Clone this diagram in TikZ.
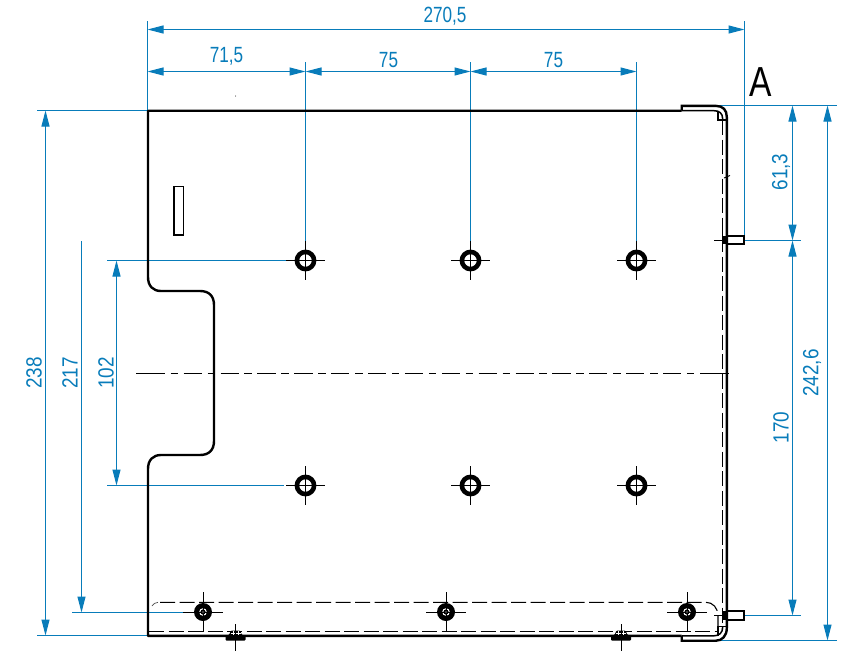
\documentclass[tikz,border=0pt]{standalone}
\usepackage{fontspec}
\newfontfamily\dimf[FakeStretch=0.78]{Liberation Sans}
\newfontfamily\dimg[FakeStretch=0.86]{Liberation Sans}
\newfontfamily\bigf[FakeStretch=0.8]{Liberation Sans}
\definecolor{dimc}{RGB}{8,124,186}
\usetikzlibrary{arrows.meta}
\tikzset{
 x=1pt,y=-1pt,
 part/.style={line width=2.4pt,black},
 thin part/.style={line width=1.5pt,black},
 hidden/.style={line width=1.1pt,black,dash pattern=on 15pt off 4.5pt},
 cross/.style={line width=.9pt,black},
 ext/.style={line width=1pt,dimc},
 dimline/.style={line width=1pt,dimc,{Triangle[length=16pt,width=8pt]}-{Triangle[length=16pt,width=8pt]}},
 dimone/.style={line width=1pt,dimc,-{Triangle[length=16pt,width=8pt]}},
 dimtext/.style={text=dimc,inner sep=0pt,font=\dimf\fontsize{22}{22}\selectfont},
 dimv/.style={text=dimc,inner sep=0pt,font=\dimg\fontsize{22}{22}\selectfont,rotate=90},
 center/.style={line width=.9pt,black},
 centerdash/.style={center,dash pattern=on 7.5pt off 5.5pt on 18.2pt off 5.67pt},
}
\newcommand{\bighole}[2]{%
 \draw[line width=4.6pt] (#1,#2) circle (8.6);
 \draw[cross] (#1-19.5,#2) -- (#1+19.5,#2) (#1,#2-19.5) -- (#1,#2+19.5);}
\newcommand{\smallhole}[2]{%
 \fill (#1,#2) circle (9);
 \draw[line width=1.1pt,white] (#1,#2) circle (3.2);
 \draw[cross] (#1-20,#2) -- (#1+20,#2) (#1,#2-20) -- (#1,#2+20);
 \fill (#1,#2) circle (2.4);
 \fill[white] (#1,#2) circle (.6);}
\newcommand{\rivet}[2]{%
 \fill[rounded corners=1pt] (#1-10,#2+5.5) -- (#1-10,#2+1) -- (#1-6.5,#2) -- (#1-4.5,#2-4.5) -- (#1+4.5,#2-4.5) -- (#1+6.5,#2) -- (#1+10,#2+1) -- (#1+10,#2+5.5) -- cycle;
 \draw[white,line width=.6pt] (#1-5,#2-2) -- (#1+5,#2-2) (#1-2.5,#2-4.5) -- (#1-2.5,#2) (#1+2.5,#2-4.5) -- (#1+2.5,#2);
 \draw[cross] (#1,#2-11) -- (#1,#2+16);}
\begin{document}
\begin{tikzpicture}
\useasboundingbox (0,0) rectangle (844,656);
% extension lines
\draw[ext] (147.5,21) -- (147.5,110.5);
\draw[ext] (744.5,21) -- (744.5,240);
\draw[ext] (305.5,62) -- (305.5,248);
\draw[ext] (470.5,62) -- (470.5,248);
\draw[ext] (636.5,62) -- (636.5,248);
\draw[ext] (37,110.5) -- (148,110.5);
\draw[ext] (37,635.5) -- (148,635.5);
\draw[ext] (72,612.5) -- (183,612.5);
\draw[ext] (107,260.5) -- (286,260.5);
\draw[ext] (107,485.5) -- (284,485.5);
\draw[ext] (719,105.5) -- (837,105.5);
\draw[ext] (744,240.5) -- (801,240.5);
\draw[ext] (744,615.5) -- (801,615.5);
\draw[ext] (718,640.5) -- (837,640.5);
% dimension lines
\draw[dimline] (147.5,29.5) -- (744.5,29.5);
\draw[dimline] (147.5,71.5) -- (305.5,71.5);
\draw[dimline] (305.5,71.5) -- (470.5,71.5);
\draw[dimline] (470.5,71.5) -- (636.5,71.5);
\draw[dimline] (45.5,110.5) -- (45.5,635.5);
\draw[dimone] (81.5,241) -- (81.5,612.5);
\draw[dimline] (116.5,260.5) -- (116.5,485.5);
\draw[dimline] (792.5,105.5) -- (792.5,240.5);
\draw[dimline] (792.5,240.5) -- (792.5,615.5);
\draw[dimline] (827.5,105.5) -- (827.5,640.5);
% dimension texts
\node[dimtext] (d1) at (445,16) {270,5};
\node[dimtext] (d2) at (226.5,56.5) {71,5};
\node[dimtext] (d3) at (388.5,60) {75};
\node[dimtext] (d4) at (553.5,60) {75};
\node[dimv] (d5) at (34,373) {238};
\node[dimv] (d6) at (70,373) {217};
\node[dimv] (d7) at (106,373) {102};
\node[dimv] (d8) at (781,172) {61,3};
\node[dimv] (d9) at (781,427.5) {170};
\node[dimv] (d10) at (812,373) {242,6};
\node[inner sep=0pt,font=\bigf\fontsize{42}{42}\selectfont] (a) at (761,82.5) {A};
% outline
\draw[part,line join=round] (681.7,110.7) -- (148,110.7) -- (148,277)
  .. controls (148,286) and (153,291) .. (161,291) -- (200,291)
  .. controls (209,291) and (214,296) .. (214,305) -- (214,441)
  .. controls (214,450) and (209,455) .. (200,455) -- (161,455)
  .. controls (153,455) and (148,460) .. (148,469) -- (148,635.8) -- (681.7,635.8);
% flanges and bent side
\draw[part,line join=miter] (681.7,110.7) -- (681.7,105.9) -- (716,105.9)
  .. controls (723,105.9) and (726.8,110) .. (726.8,117) -- (726.8,628)
  .. controls (726.8,636) and (722,640.7) .. (716,640.7) -- (681.7,640.7) -- (681.7,635.8);
\draw[thin part] (681.7,110.7) -- (714,110.7) .. controls (719,110.7) and (722.7,113) .. (722.7,119);
\draw[thin part] (718,110.7) -- (718,120) -- (726.8,120);
\draw[thin part] (681.7,635.8) -- (714,635.8) .. controls (719,635.8) and (722.7,633) .. (722.7,627);
\draw[thin part] (718,635.8) -- (718,626.7) -- (726.8,626.7);
% hidden lines
\draw[hidden] (722.7,120) -- (722.7,626.7);
\draw[line width=.7pt,black!70] (152,606) .. controls (153,604) and (155,602.6) .. (158,602.3);
\draw[hidden] (160,602.3) -- (706,602.3)
  .. controls (713,602.3) and (718,608) .. (718,616) -- (718,626);
\draw[hidden] (149,631.7) -- (718,631.7);
% small tick
\draw[cross] (724,178) -- (730,175.5);
% center line
\draw[center] (136,373) -- (165,373);
\draw[centerdash] (170.7,373) -- (694.3,373);
\draw[center] (700,373) -- (729,373);
% slot
\draw[line width=1.5pt] (173.8,186.7) rectangle (183.3,235);
% holes
\bighole{305.5}{260.5}\bighole{470.5}{260.5}\bighole{636.5}{260.5}
\bighole{305.5}{485.5}\bighole{470.5}{485.5}\bighole{636.5}{485.5}
\smallhole{203}{612}\smallhole{446}{612}\smallhole{687}{612}
\rivet{235.5}{635}\rivet{621}{635}
% studs
\draw[line width=1.9pt] (727,235.8) rectangle (744,244.3);
\fill (722.5,235.8) rectangle (727,244.3);
\draw[cross] (714,240.5) -- (727,240.5) (722.7,232) -- (722.7,248);
\draw[line width=1.9pt] (727,610.8) rectangle (744,620);
\fill (722.5,610.8) rectangle (727,620);
\draw[cross] (714,615.5) -- (727,615.5);
% tiny mark
\fill (235.7,96) circle (.5);
\end{tikzpicture}
\end{document}
